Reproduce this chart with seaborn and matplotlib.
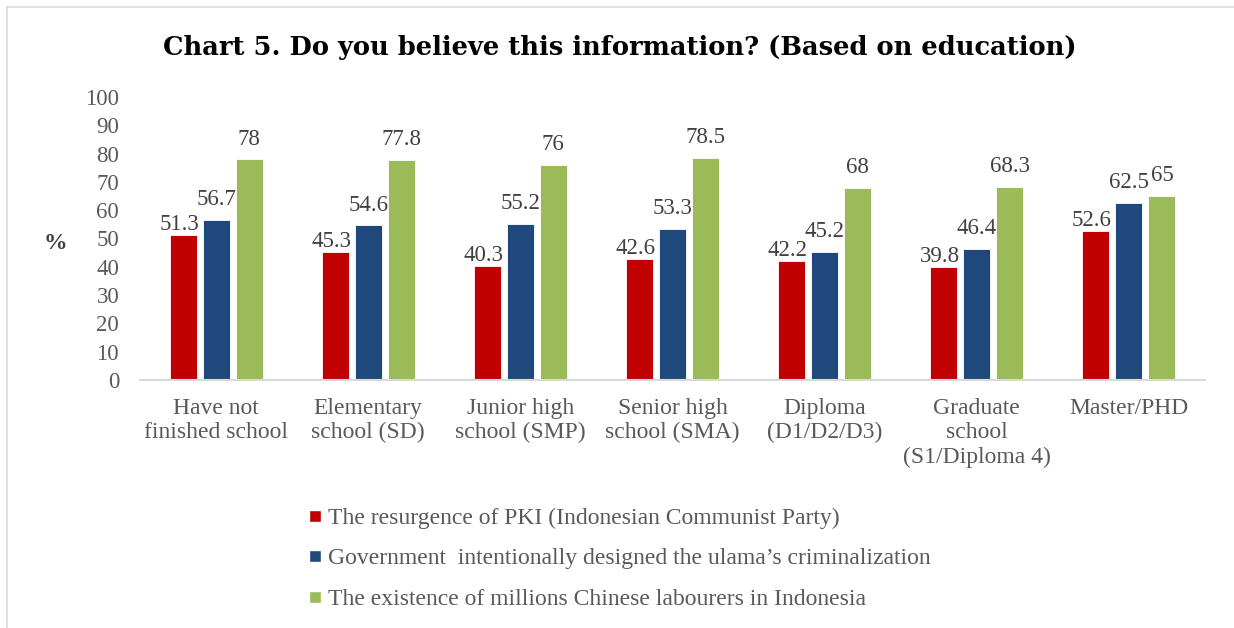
import matplotlib
matplotlib.use("Agg")
import matplotlib.pyplot as plt
import seaborn as sns
import pandas as pd
from matplotlib.lines import Line2D

categories = ["Have not\nfinished school", "Elementary\nschool (SD)", "Junior high\nschool (SMP)",
              "Senior high\nschool (SMA)", "Diploma\n(D1/D2/D3)", "Graduate\nschool\n(S1/Diploma 4)",
              "Master/PHD"]
series_names = ["The resurgence of PKI (Indonesian Communist Party)",
                "Government  intentionally designed the ulama\u2019s criminalization",
                "The existence of millions Chinese labourers in Indonesia"]
pki = [51.3, 45.3, 40.3, 42.6, 42.2, 39.8, 52.6]
gov = [56.7, 54.6, 55.2, 53.3, 45.2, 46.4, 62.5]
chinese = [78, 77.8, 76, 78.5, 68, 68.3, 65]
yticks = list(range(0, 101, 10))
colors = ["#C00000", "#1F497D", "#9BBB59"]

rows = []
for name, vals in zip(series_names, [pki, gov, chinese]):
    for c, v in zip(categories, vals):
        rows.append({"cat": c, "series": name, "value": v})
df = pd.DataFrame(rows)

sns.set_theme(style="white")
plt.rcParams["font.family"] = ["Liberation Serif", "DejaVu Serif"]

fig = plt.figure(figsize=(12.34, 6.28), dpi=100)
ax = fig.add_axes([140/1234, 1-380/628, 1065/1234, 283/628])

sns.barplot(data=df, x="cat", y="value", hue="series", palette=colors, order=categories,
            hue_order=series_names, width=0.65, gap=0.18, ax=ax, legend=False,
            saturation=1, edgecolor="white", linewidth=0.6)

pads = [0, 7, 7]
shifts = [-3, 0, 0]
for cont, p, dx in zip(ax.containers, pads, shifts):
    anns = ax.bar_label(cont, fmt="%g", padding=p, fontsize=16.5, color="#404040")
    for a in anns:
        a.xyann = (dx, p)

ax.set_xlim(-0.5, 6.5)
ax.set_ylim(0, 100)
ax.set_yticks(yticks)
ax.set_yticklabels([str(t) for t in yticks], fontsize=16.5, color="#595959")
ax.tick_params(axis="x", labelsize=17, labelcolor="#595959", length=0, pad=13)
ax.tick_params(axis="y", length=0, pad=15)
ax.set_xlabel("")
ax.set_ylabel("")
for s in ["top", "right", "left"]:
    ax.spines[s].set_visible(False)
ax.spines["bottom"].set_color("#D9D9D9")
ax.spines["bottom"].set_linewidth(1.5)
ax.grid(False)

fig.text(55/1234, 1-243/628, "%", fontsize=17, fontweight="bold", color="#404040",
         ha="center", va="center")
fig.text(620/1234, 1-48/628, "Chart 5. Do you believe this information? (Based on education)",
         fontsize=18.5, fontweight="bold", color="black", ha="center", va="center",
         family=["DejaVu Serif"])

handles = [Line2D([0], [0], marker="s", color="w", markerfacecolor=c, markersize=9,
                  linestyle="none") for c in colors]
fig.legend(handles, series_names, loc="upper left", bbox_to_anchor=(294/1234, 1-498/628),
           frameon=False, fontsize=17, labelcolor="#595959", handletextpad=0.05,
           labelspacing=0.8, handlelength=1.0, borderaxespad=0)

# outer border
fig.add_artist(Line2D([7/1234, 1], [1-7/628, 1-7/628], color="#D9D9D9", linewidth=1.2,
                      transform=fig.transFigure))
fig.add_artist(Line2D([7/1234, 7/1234], [0, 1-7/628], color="#D9D9D9", linewidth=1.2,
                      transform=fig.transFigure))

fig.savefig("out.png", dpi=100)
